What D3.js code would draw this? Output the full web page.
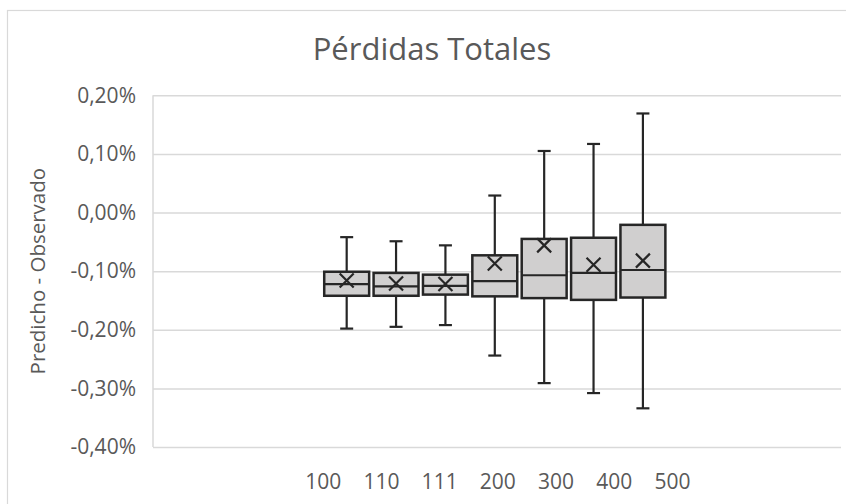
<!DOCTYPE html>
<html>
<head>
<meta charset="utf-8">
<script src="https://cdn.jsdelivr.net/npm/d3@7"></script>
<style>
  html, body { margin: 0; padding: 0; background: #fff; }
  svg { display: block; }
</style>
</head>
<body>
<svg id="chart" width="846" height="504"></svg>
<script>
const categories = ["100", "110", "111", "200", "300", "400", "500"];
const minVals    = [-0.198, -0.195, -0.192, -0.244, -0.291, -0.308, -0.334];
const q1Vals     = [-0.142, -0.142, -0.140, -0.143, -0.146, -0.149, -0.145];
const medianVals = [-0.122, -0.126, -0.125, -0.117, -0.107, -0.103, -0.098];
const q3Vals     = [-0.101, -0.103, -0.106, -0.073, -0.045, -0.043, -0.021];
const maxVals    = [-0.042, -0.049, -0.056,  0.029,  0.105,  0.117,  0.169];
const meanVals   = [-0.116, -0.121, -0.122, -0.087, -0.056, -0.089, -0.082];
const yTicks     = [0.2, 0.1, 0, -0.1, -0.2, -0.3, -0.4];
const titleText  = "Pérdidas Totales";
const yTitleText = "Predicho - Observado";

const svg = d3.select("#chart");
const font = "'Open Sans', 'Noto Sans', sans-serif";
const textColor = "#595959";
const gridColor = "#d9d9d9";
const markColor = "#262626";
const boxFill = "#d0cfcf";

const plot = { left: 153, right: 841, top: 95.3, bottom: 447 };

// outer chart border (extends beyond viewport on right/bottom)
svg.append("rect")
  .attr("x", 7.5).attr("y", 10.5)
  .attr("width", 900).attr("height", 600)
  .attr("fill", "none").attr("stroke", gridColor).attr("stroke-width", 1.2);

const y = d3.scaleLinear().domain([-0.4, 0.2]).range([plot.bottom, plot.top]);
const xLabel = d3.scalePoint().domain(categories).range([322.7, 672]);
const xBox = d3.scaleBand().domain(categories).range([322, 667.6]).paddingInner(0.09).paddingOuter(0.045);

const fmt = d => (Math.abs(d) < 1e-9 ? 0 : d).toFixed(2).replace(".", ",") + "%";

// y axis with gridlines
const gy = svg.append("g")
  .attr("transform", `translate(${plot.left},0)`)
  .call(d3.axisLeft(y).tickValues(yTicks).tickSize(-(plot.right - plot.left)).tickPadding(17).tickFormat(fmt));
gy.select(".domain").remove();
gy.selectAll(".tick line").attr("stroke", gridColor).attr("stroke-width", 1.5);
gy.selectAll(".tick text").attr("fill", textColor).style("font-family", font).style("font-size", "21px");

// left vertical axis line
svg.append("line")
  .attr("x1", plot.left).attr("x2", plot.left)
  .attr("y1", y(0.2)).attr("y2", y(-0.4))
  .attr("stroke", gridColor).attr("stroke-width", 1.5);

// x axis labels
const gx = svg.append("g")
  .attr("transform", `translate(0,${plot.bottom})`)
  .call(d3.axisBottom(xLabel).tickSize(0).tickPadding(27));
gx.select(".domain").remove();
gx.selectAll(".tick text").attr("fill", textColor).style("font-family", font).style("font-size", "21px");

// boxes
const data = categories.map((c, i) => ({
  c, min: minVals[i], q1: q1Vals[i], med: medianVals[i], q3: q3Vals[i], max: maxVals[i], mean: meanVals[i]
}));
const bw = xBox.bandwidth();
const capHalf = 6.5;
const g = svg.append("g").selectAll("g").data(data).join("g")
  .attr("transform", d => `translate(${xBox(d.c) + bw / 2},0)`);

// whiskers
g.append("line").attr("x1", 0).attr("x2", 0).attr("y1", d => y(d.max)).attr("y2", d => y(d.q3))
  .attr("stroke", markColor).attr("stroke-width", 2.2);
g.append("line").attr("x1", 0).attr("x2", 0).attr("y1", d => y(d.q1)).attr("y2", d => y(d.min))
  .attr("stroke", markColor).attr("stroke-width", 2.2);
g.append("line").attr("x1", -capHalf).attr("x2", capHalf).attr("y1", d => y(d.max)).attr("y2", d => y(d.max))
  .attr("stroke", markColor).attr("stroke-width", 2.2);
g.append("line").attr("x1", -capHalf).attr("x2", capHalf).attr("y1", d => y(d.min)).attr("y2", d => y(d.min))
  .attr("stroke", markColor).attr("stroke-width", 2.2);

// box
g.append("rect")
  .attr("x", -bw / 2).attr("width", bw)
  .attr("y", d => y(d.q3)).attr("height", d => y(d.q1) - y(d.q3))
  .attr("fill", boxFill).attr("stroke", markColor).attr("stroke-width", 2.5);

// median
g.append("line").attr("x1", -bw / 2).attr("x2", bw / 2).attr("y1", d => y(d.med)).attr("y2", d => y(d.med))
  .attr("stroke", markColor).attr("stroke-width", 2.2);

// mean X
const m = 7;
g.append("path")
  .attr("d", d => `M${-m},${y(d.mean) - m}L${m},${y(d.mean) + m}M${m},${y(d.mean) - m}L${-m},${y(d.mean) + m}`)
  .attr("stroke", markColor).attr("stroke-width", 2.2).attr("fill", "none");

// title
svg.append("text")
  .attr("x", 432).attr("y", 60)
  .attr("text-anchor", "middle")
  .attr("fill", textColor)
  .style("font-family", font).style("font-size", "31px")
  .text(titleText);

// y axis title
svg.append("text")
  .attr("transform", `translate(45,${(plot.top + plot.bottom) / 2}) rotate(-90)`)
  .attr("text-anchor", "middle")
  .attr("fill", textColor)
  .style("font-family", font).style("font-size", "20.5px")
  .text(yTitleText);
</script>
</body>
</html>
